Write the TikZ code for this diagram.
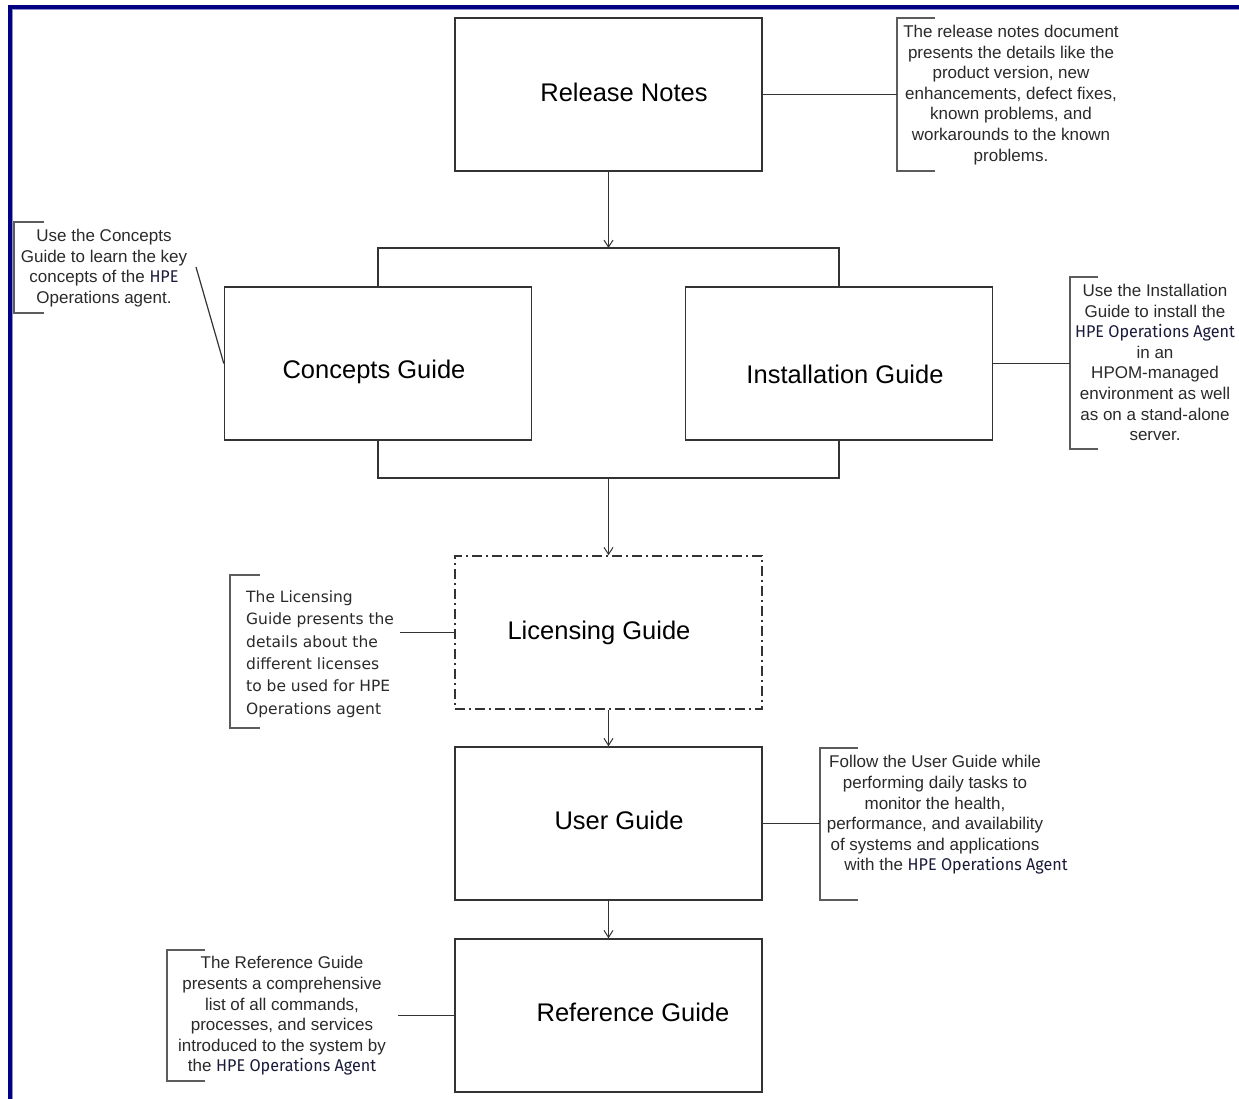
\documentclass[tikz,border=0pt]{standalone}
\usepackage{fontspec}
\setmainfont{Liberation Sans}
\newfontfamily\hpefont[FakeStretch=0.95]{Fira Sans}
\newfontfamily\licfont{DejaVu Sans}
\usetikzlibrary{arrows.meta}
\newcommand\HPEtxt[1]{{\hpefont\color{hpecol}#1}}
\definecolor{navyb}{HTML}{000080}
\definecolor{navyl}{HTML}{9090D0}
\definecolor{hpecol}{HTML}{1A1A3A}
\definecolor{linecol}{HTML}{333333}
\definecolor{txtcol}{HTML}{2A2A2A}
\begin{document}
\begin{tikzpicture}[x=1pt,y=-1pt,
  box/.style={draw=linecol,line width=1.4pt,minimum width=307pt,minimum height=153pt,inner sep=0pt},
  dashbox/.style={box,dash pattern=on 10pt off 4pt on 2pt off 4pt},
  lbl/.style={anchor=base,inner sep=0pt,text=black,font=\fontsize{25.5}{30}\selectfont},
  note/.style={inner sep=0pt,align=center,text=txtcol,font=\fontsize{17}{20.6}\selectfont},
  licnote/.style={inner sep=0pt,align=left,anchor=west,text=txtcol,font=\licfont\fontsize{15.5}{22.4}\selectfont},
  conn/.style={draw=linecol,line width=1.2pt},
  brk/.style={draw=linecol!80,line width=1.5pt},
  arr/.style={conn,-{Straight Barb[length=7pt,width=9pt,line width=1pt]}}
]
\useasboundingbox (0,0) rectangle (1239,1099);
\fill[white] (0,0) rectangle (1239,1099);
% border
\draw[navyb,line width=4pt] (8,7) -- (1239,7);
\draw[navyb,line width=4pt] (9.5,5) -- (9.5,1099);
\draw[navyl,line width=1pt] (12,10) -- (1239,10);
\draw[navyl,line width=1pt] (12,10) -- (12,1099);

% boxes
\node[box] (rn) at (608.5,94.5) {};
\node[box] (cg) at (378,363.5) {};
\node[box] (ig) at (839,363.5) {};
\node[dashbox] (lg) at (608.5,632.5) {};
\node[box] (ug) at (608.5,823.5) {};
\node[box] (rg) at (608.5,1015.5) {};

\node[lbl] (rnl) at (624,101.5) {Release Notes};
\node[lbl] (cgl) at (374,378) {Concepts Guide};
\node[lbl] (igl) at (845,383) {Installation Guide};
\node[lbl] (lgl) at (599,639) {Licensing Guide};
\node[lbl] (ugl) at (619,829) {User Guide};
\node[lbl] (rgl) at (633,1021) {Reference Guide};

% junction coordinates
\coordinate (topbar) at (608.5,248);
\coordinate (tl) at (378,248);
\coordinate (tr) at (839,248);
\coordinate (botbar) at (608.5,478);
\coordinate (bl) at (378,478);
\coordinate (br) at (839,478);

\draw[arr] (rn.south) -- (topbar);
\draw[conn] (cg.north) -- (tl) -- (tr) -- (ig.north);
\draw[conn] (cg.south) -- (bl) -- (br) -- (ig.south);
\draw[arr] (botbar) -- (lg.north);
\draw[arr] (lg.south) -- (ug.north);
\draw[arr] (ug.south) -- (rg.north);

% annotation brackets
\draw[brk] (935,18) -- (897,18) -- (897,171) -- (935,171);
\coordinate (b1) at (897,94.5);
\draw[conn] (rn.east) -- (b1);
\node[note] (n1) at (1011,95) {The release notes document\\presents the details like the\\product version, new\\enhancements, defect fixes,\\known problems, and\\workarounds to the known\\problems.};

\draw[brk] (44,222) -- (14,222) -- (14,313) -- (44,313);
\coordinate (b2) at (196,267);
\draw[conn] (b2) -- (cg.west);
\node[note] (n2) at (104,268) {Use the Concepts\\Guide to learn the key\\concepts of the \HPEtxt{HPE}\\Operations agent.};

\draw[brk] (1098,277) -- (1070,277) -- (1070,449) -- (1098,449);
\coordinate (b3) at (1070,363.5);
\draw[conn] (ig.east) -- (b3);
\node[note] (n3) at (1155,362.5) {Use the Installation\\Guide to install the\\\HPEtxt{HPE Operations Agent}\\in an\\HPOM-managed\\environment as well\\as on a stand-alone\\server.};

\draw[brk] (260,575) -- (230,575) -- (230,728) -- (260,728);
\coordinate (b4) at (400,632.5);
\draw[conn] (b4) -- (lg.west);
\node[licnote] (n4) at (246,654) {The Licensing\\Guide presents the\\details about the\\different licenses\\to be used for HPE\\Operations agent};

\draw[brk] (858,748) -- (820,748) -- (820,900) -- (858,900);
\coordinate (b5) at (820,823.5);
\draw[conn] (ug.east) -- (b5);
\node[note] (n5) at (935,815) {Follow the User Guide while\\performing daily tasks to\\monitor the health,\\performance, and availability\\of systems and applications\\\hspace*{42pt}with the \HPEtxt{HPE Operations Agent}};

\draw[brk] (205,950) -- (167,950) -- (167,1081) -- (205,1081);
\coordinate (b6) at (398,1015.5);
\draw[conn] (b6) -- (rg.west);
\node[note] (n6) at (282,1016) {The Reference Guide\\presents a comprehensive\\list of all commands,\\processes, and services\\introduced to the system by\\the \HPEtxt{HPE Operations Agent}};
\end{tikzpicture}
\end{document}
